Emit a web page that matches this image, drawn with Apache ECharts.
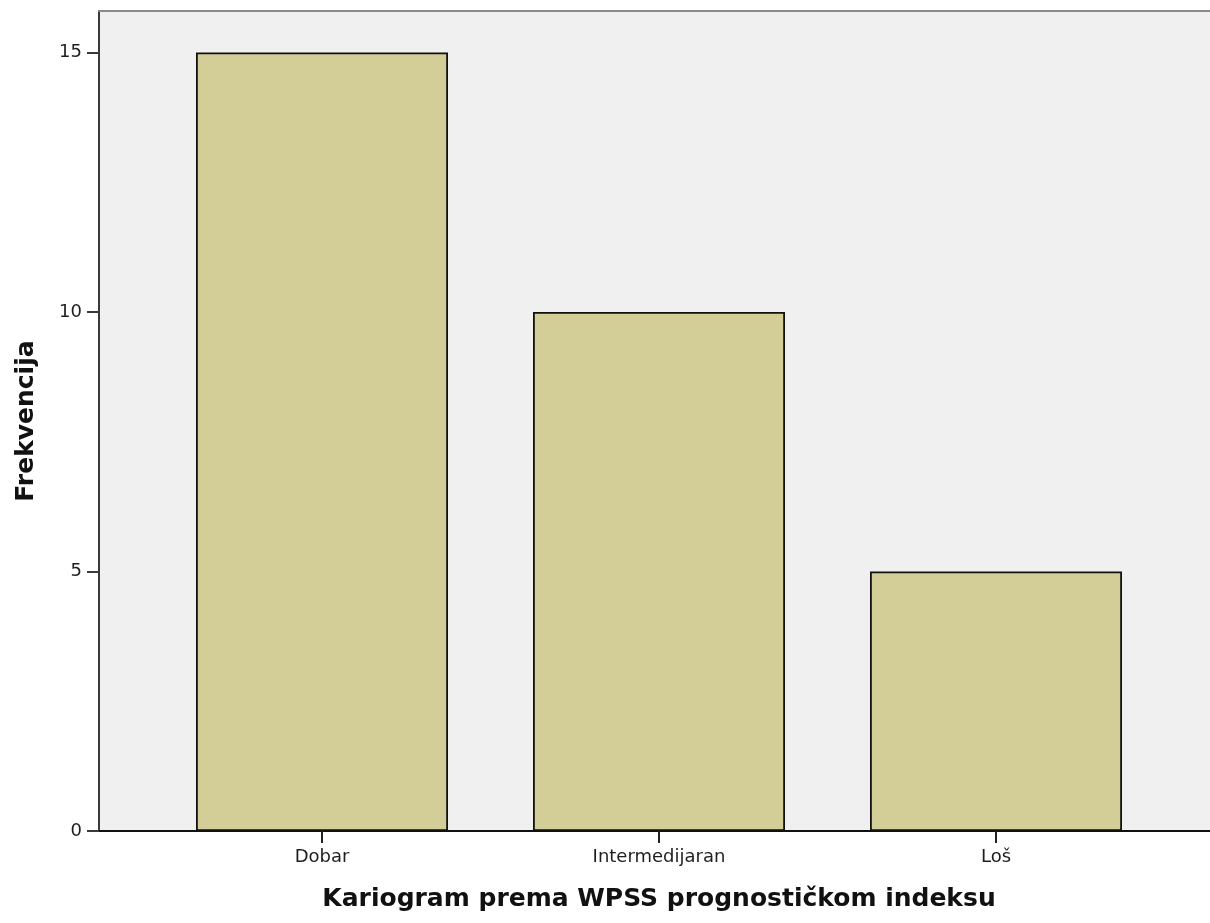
<!DOCTYPE html>
<html>
<head>
<meta charset="utf-8">
<script src="https://cdn.jsdelivr.net/npm/echarts@6/dist/echarts.min.js"></script>
<style>
  html, body { margin: 0; padding: 0; background: #ffffff; }
  #chart { width: 1210px; height: 923px; }
</style>
</head>
<body>
<div id="chart"></div>
<script>
const categories = ['Dobar', 'Intermedijaran', 'Loš'];
const frequencies = [15, 10, 5];
const yTicks = [0, 5, 10, 15];
const xAxisTitle = 'Kariogram prema WPSS prognostičkom indeksu';
const yAxisTitle = 'Frekvencija';

const chart = echarts.init(document.getElementById('chart'), null, { renderer: 'canvas' });
const FONT = 'DejaVu Sans';
const Y_MAX = 15.8;

const option = {
  animation: false,
  backgroundColor: '#ffffff',
  grid: [
    { left: 99, right: 0, top: 11, bottom: 92, show: true, backgroundColor: '#f0f0f0', borderWidth: 0, containLabel: false },
    { left: 153.5, right: 45.5, top: 11, bottom: 92, show: false, containLabel: false }
  ],
  xAxis: [
    { gridIndex: 0, type: 'value', min: 0, max: 1, position: 'bottom',
      axisLine: { show: true, onZero: false, lineStyle: { color: '#111111', width: 2 } },
      axisTick: { show: false }, axisLabel: { show: false }, splitLine: { show: false } },
    { gridIndex: 0, type: 'value', min: 0, max: 1, position: 'top',
      axisLine: { show: true, onZero: false, lineStyle: { color: '#8a8a8a', width: 2 } },
      axisTick: { show: false }, axisLabel: { show: false }, splitLine: { show: false } },
    { gridIndex: 1, type: 'category', data: categories, position: 'bottom',
      axisLine: { show: false, onZero: false },
      axisTick: { show: true, alignWithLabel: true, length: 12, lineStyle: { color: '#222222', width: 2 } },
      axisLabel: { show: true, margin: 17, fontFamily: FONT, fontSize: 18, color: '#1e1e1e' },
      name: xAxisTitle, nameLocation: 'middle', nameGap: 56,
      nameTextStyle: { fontFamily: FONT, fontSize: 25, fontWeight: 'bold', color: '#111111' },
      splitLine: { show: false } }
  ],
  yAxis: [
    { gridIndex: 0, type: 'value', min: 0, max: Y_MAX, interval: 5,
      axisLine: { show: true, lineStyle: { color: '#3a3a3a', width: 2 } },
      axisTick: { show: true, length: 12, customValues: yTicks, lineStyle: { color: '#3a3a3a', width: 2 } },
      axisLabel: { show: true, margin: 17, customValues: yTicks, fontFamily: FONT, fontSize: 18, color: '#1e1e1e' },
      splitLine: { show: false },
      name: yAxisTitle, nameLocation: 'middle', nameGap: 60, nameRotate: 90,
      nameTextStyle: { fontFamily: FONT, fontSize: 25, fontWeight: 'bold', color: '#111111' } },
    { gridIndex: 1, type: 'value', min: 0, max: Y_MAX, show: false, splitLine: { show: false } }
  ],
  series: [
    { type: 'bar', xAxisIndex: 2, yAxisIndex: 1, data: frequencies, barWidth: 252,
      itemStyle: { color: '#d3ce97', borderColor: '#111111', borderWidth: 1.8 }, z: 3 }
  ]
};
chart.setOption(option);
</script>
</body>
</html>
